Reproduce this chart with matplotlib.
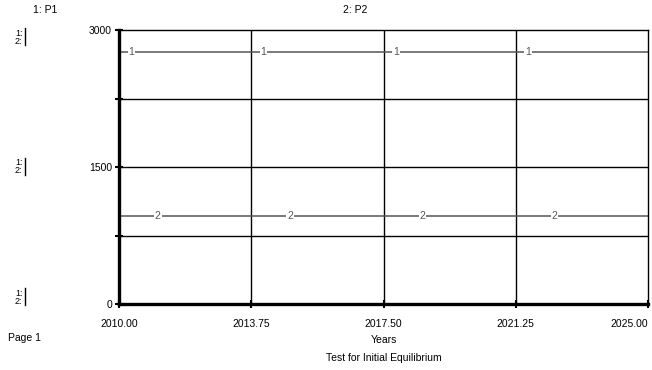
import matplotlib
matplotlib.use("Agg")
import matplotlib.pyplot as plt

plt.rcParams['font.family'] = ['Liberation Sans', 'DejaVu Sans']

# Model output: two stocks held flat over the run
years = [2010.0, 2013.75, 2017.5, 2021.25, 2025.0]
p1 = [2760, 2760, 2760, 2760, 2760]
p2 = [960, 960, 960, 960, 960]

x_ticks = [2010.0, 2013.75, 2017.5, 2021.25, 2025.0]
x_ticklabels = ["2010.00", "2013.75", "2017.50", "2021.25", "2025.00"]
y_ticks = [0, 750, 1500, 2250, 3000]
y_ticklabels = ["0", "", "1500", "", "3000"]

# where the curve numbers sit along each line
p1_label_x = [2010.35, 2014.1, 2017.85, 2021.6]
p2_label_x = [2011.1, 2014.85, 2018.6, 2022.35]

line_color = "#555555"
fs = 7.5

fig = plt.figure(figsize=(6.52, 3.70), dpi=100)
ax = fig.add_axes([119 / 652, 66 / 370, 529 / 652, 274 / 370])

ax.set_xlim(2010.0, 2025.0)
ax.set_ylim(0, 3000)

ax.plot(years, p1, color=line_color, lw=1.1, zorder=2)
ax.plot(years, p2, color=line_color, lw=1.1, zorder=2)

for x in p1_label_x:
    ax.text(x, p1[0], "1", fontsize=fs, color=line_color, ha='center', va='center',
            bbox=dict(facecolor='white', edgecolor='none', pad=0.6), zorder=3)
for x in p2_label_x:
    ax.text(x, p2[0], "2", fontsize=fs, color=line_color, ha='center', va='center',
            bbox=dict(facecolor='white', edgecolor='none', pad=0.6), zorder=3)

# grid
for x in x_ticks[1:-1]:
    ax.axvline(x, color='black', lw=1.0, zorder=1)
for y in y_ticks[1:-1]:
    ax.axhline(y, color='black', lw=1.0, zorder=1)

for side in ['top', 'right']:
    ax.spines[side].set_linewidth(1.0)
for side in ['left', 'bottom']:
    ax.spines[side].set_linewidth(2.4)

ax.set_xticks(x_ticks)
ax.set_xticklabels(x_ticklabels, fontsize=fs)
ax.get_xticklabels()[-1].set_horizontalalignment('right')
ax.set_yticks(y_ticks)
ax.set_yticklabels(y_ticklabels, fontsize=fs)
ax.tick_params(axis='x', direction='inout', length=6, width=1.5, pad=8)
ax.tick_params(axis='y', direction='inout', length=6, width=1.5, pad=2)

ax.set_xlabel("Years", fontsize=fs, labelpad=4)

# scale keys on the left
key_fs = 6.5
for ytop in [33, 163, 293]:
    fig.text(15 / 652, 1 - ytop / 370, "1:", fontsize=key_fs, ha='left', va='center')
    fig.text(15 / 652, 1 - (ytop + 8) / 370, "2:", fontsize=key_fs, ha='left', va='center')
    fig.lines.append(plt.Line2D([24.5 / 652, 24.5 / 652], [1 - (ytop - 5) / 370, 1 - (ytop + 12) / 370],
                                transform=fig.transFigure, color='black', lw=1.0))

fig.text(33 / 652, 1 - 10 / 370, "1: P1", fontsize=fs, ha='left', va='center')
fig.text(343 / 652, 1 - 10 / 370, "2: P2", fontsize=fs, ha='left', va='center')
fig.text(8 / 652, 1 - 338 / 370, "Page 1", fontsize=fs, ha='left', va='center')
fig.text(384 / 652, 1 - 358 / 370, "Test for Initial Equilibrium", fontsize=fs,
         ha='center', va='center')

fig.savefig("out.png", dpi=100)
